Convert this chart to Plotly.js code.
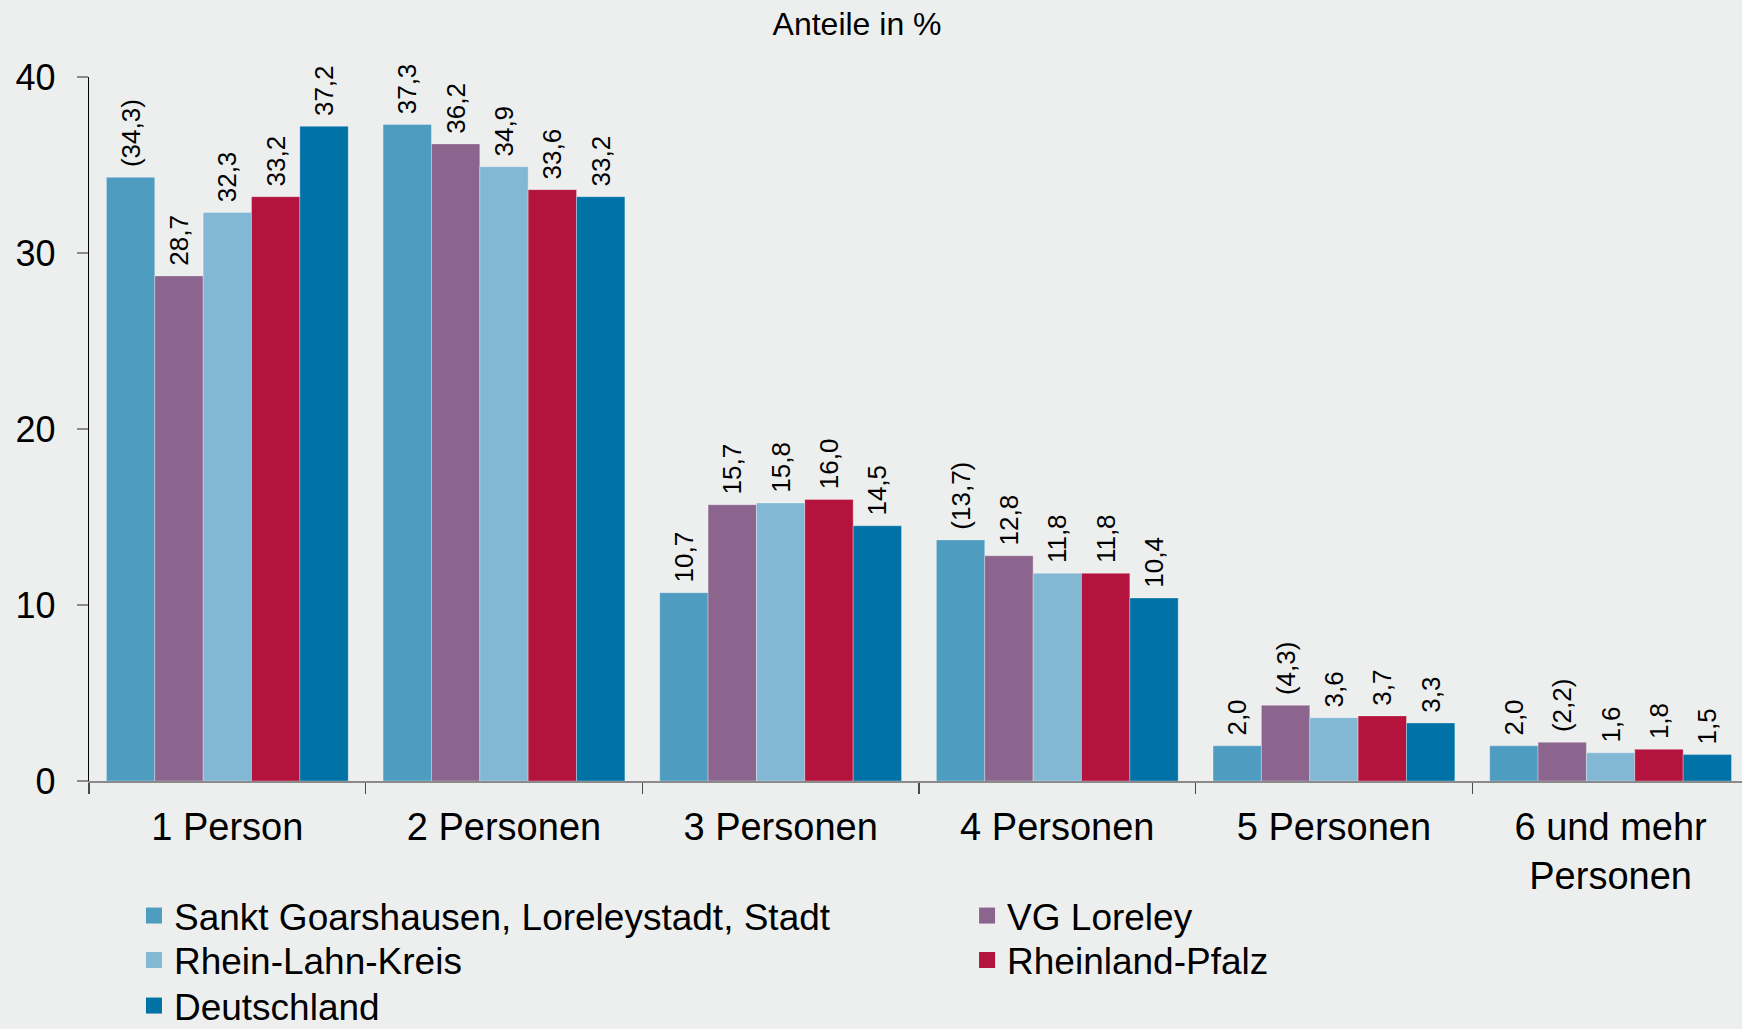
<!DOCTYPE html>
<html>
<head>
<meta charset="utf-8">
<script src="https://cdn.plot.ly/plotly-3.0.1.min.js"></script>
<style>
  html, body { margin: 0; padding: 0; background: #edefee; }
  #chart { width: 1742px; height: 1029px; }
</style>
</head>
<body>
<div id="chart"></div>
<script>
// ---- Data ----
const categories = ["1 Person", "2 Personen", "3 Personen", "4 Personen", "5 Personen", "6 und mehr<br>Personen"];

const seriesNames = [
  "Sankt Goarshausen, Loreleystadt, Stadt",
  "VG Loreley",
  "Rhein-Lahn-Kreis",
  "Rheinland-Pfalz",
  "Deutschland"
];

const sanktGoarshausen = [34.3, 37.3, 10.7, 13.7, 2.0, 2.0];
const vgLoreley        = [28.7, 36.2, 15.7, 12.8, 4.3, 2.2];
const rheinLahnKreis   = [32.3, 34.9, 15.8, 11.8, 3.6, 1.6];
const rheinlandPfalz   = [33.2, 33.6, 16.0, 11.8, 3.7, 1.8];
const deutschland      = [37.2, 33.2, 14.5, 10.4, 3.3, 1.5];

// values shown in parentheses (limited reliability)
const sanktGoarshausenParen = [true, false, false, true, false, false];
const vgLoreleyParen        = [false, false, false, false, true, true];
const noParen               = [false, false, false, false, false, false];

const seriesValues = [sanktGoarshausen, vgLoreley, rheinLahnKreis, rheinlandPfalz, deutschland];
const seriesParen  = [sanktGoarshausenParen, vgLoreleyParen, noParen, noParen, noParen];

// ---- Styling ----
const colors = ["#4e9dc0", "#8b658e", "#82b8d4", "#b3133d", "#0072a6"];
const FONT = "Liberation Sans, Arial, Helvetica, sans-serif";
const legendIds = ["legend", "legend2", "legend3", "legend4", "legend5"];
// legend placement: [x (paper), row centre (container)]
const legendX = [0.0272, 0.5312, 0.0272, 0.5312, 0.0272];
const legendRowY = [1 - 916 / 1029, 1 - 916 / 1029, 1 - 960.5 / 1029, 1 - 960.5 / 1029, 1 - 1006 / 1029];

function fmt(v, paren) {
  const s = v.toFixed(1).replace(".", ",");
  return "\u00a0" + (paren ? "(" + s + ")" : s);
}

const traces = [];
seriesValues.forEach((vals, i) => {
  traces.push({
    type: "bar",
    name: seriesNames[i],
    x: categories,
    y: vals,
    text: vals.map((v, j) => fmt(v, seriesParen[i][j])),
    textposition: "outside",
    textangle: -90,
    constraintext: "none",
    cliponaxis: false,
    textfont: { family: FONT, size: 26, color: "#000000" },
    marker: { color: colors[i], line: { color: "rgba(255,255,255,0.3)", width: 1 } },
    showlegend: false,
    hoverinfo: "x+y+name"
  });
});
// legend entries (square swatches)
seriesValues.forEach((vals, i) => {
  traces.push({
    type: "scatter",
    mode: "markers",
    name: seriesNames[i],
    x: [null],
    y: [null],
    marker: { color: colors[i], symbol: "square", size: 16, line: { width: 0 } },
    showlegend: true,
    legend: legendIds[i],
    hoverinfo: "skip"
  });
});

const layout = {
  width: 1742,
  height: 1029,
  paper_bgcolor: "#edefee",
  plot_bgcolor: "#edefee",
  font: { family: FONT, color: "#000000" },
  margin: { l: 89, r: 0, t: 77, b: 248, pad: 0, autoexpand: false },
  barmode: "group",
  bargap: 0.126,
  bargroupgap: 0,
  title: {
    text: "Anteile in %",
    font: { family: FONT, size: 32, color: "#000000" },
    xref: "container", yref: "container",
    x: 0.492, xanchor: "center",
    y: 0.9767, yanchor: "middle"
  },
  xaxis: {
    type: "category",
    range: [-0.5, 5.475],
    showgrid: false,
    zeroline: false,
    showline: true,
    linecolor: "#8a8a8a",
    linewidth: 2,
    ticks: "outside",
    tickson: "boundaries",
    ticklen: 11,
    tickwidth: 1.5,
    tickcolor: "#4a4a4a",
    ticklabelstandoff: 11,
    tickfont: { family: FONT, size: 38, color: "#000000" },
    fixedrange: true
  },
  yaxis: {
    range: [0, 40],
    dtick: 10,
    tick0: 0,
    showgrid: false,
    zeroline: false,
    showline: true,
    linecolor: "#000000",
    linewidth: 1.2,
    ticks: "outside",
    ticklen: 11,
    tickwidth: 1.2,
    tickcolor: "#8a8a8a",
    ticklabelstandoff: 14,
    tickfont: { family: FONT, size: 36, color: "#000000" },
    fixedrange: true
  }
};

legendIds.forEach((id, i) => {
  layout[id] = {
    orientation: "v",
    x: legendX[i], xanchor: "left",
    yref: "container",
    y: legendRowY[i], yanchor: "middle",
    bgcolor: "rgba(0,0,0,0)",
    borderwidth: 0,
    tracegroupgap: 0,
    font: { family: FONT, size: 37, color: "#000000" }
  };
});

Plotly.newPlot("chart", traces, layout, { displayModeBar: false, staticPlot: true });
</script>
</body>
</html>
